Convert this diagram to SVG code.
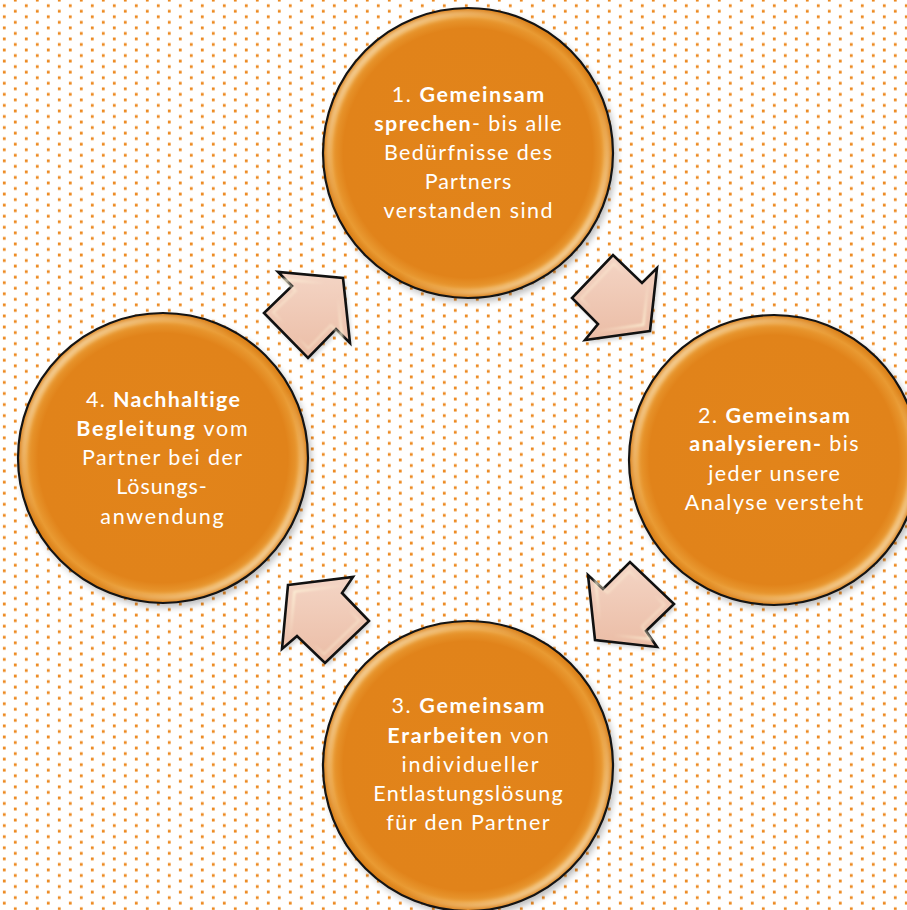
<svg xmlns="http://www.w3.org/2000/svg" width="907" height="910" viewBox="0 0 907 910">
  <style>
    .orb{fill:url(#orb)}
    .edge{fill:none;stroke:#141414;stroke-width:2.2}
    .rim{fill:none;stroke:url(#rim);stroke-width:6;filter:url(#blur2)}
    .shadow{fill:#000;opacity:.28;filter:url(#blur3)}
    .lbl{font-family:"Lato","Carlito","Liberation Sans",sans-serif;font-size:21.5px;fill:#fff;text-anchor:middle;font-variant-ligatures:none}
    .b{font-weight:bold}
    .arrow{fill:url(#arr);stroke:#111;stroke-width:2.6;stroke-linejoin:miter}
    .arrowhl{fill:none;stroke:url(#rim);stroke-width:3;filter:url(#blur1)}
    .arrowsh{fill:#000;opacity:.2;filter:url(#blur2)}
  </style>
  <defs>
    <pattern id="dots" width="22" height="11.08" patternUnits="userSpaceOnUse" patternTransform="translate(0,2.9)">
      <rect x="2.9" y="1.4" width="2.8" height="2.8" fill="#EC8A22"/>
      <rect x="13.9" y="6.95" width="2.8" height="2.8" fill="#EC8A22"/>
    </pattern>
    <radialGradient id="orb" cx="50%" cy="50%" r="50%">
      <stop offset="0" stop-color="#E2841A"/>
      <stop offset="0.86" stop-color="#E1831A"/>
      <stop offset="0.94" stop-color="#E99A32"/>
      <stop offset="1" stop-color="#D87A12"/>
    </radialGradient>
    <linearGradient id="rim" x1="0" y1="0" x2="1" y2="1">
      <stop offset="0" stop-color="#FFF6DA" stop-opacity="1"/>
      <stop offset="0.4" stop-color="#FFF6DA" stop-opacity="0"/>
      <stop offset="0.6" stop-color="#FFF6DA" stop-opacity="0"/>
      <stop offset="1" stop-color="#FFF6DA" stop-opacity="1"/>
    </linearGradient>
    <linearGradient id="arr" x1="0" y1="0" x2="0" y2="1">
      <stop offset="0" stop-color="#F4D5C5"/>
      <stop offset="1" stop-color="#EBBDA6"/>
    </linearGradient>
    <filter id="blur1" x="-20%" y="-20%" width="140%" height="140%"><feGaussianBlur stdDeviation="1.1"/></filter>
    <filter id="blur2" x="-20%" y="-20%" width="140%" height="140%"><feGaussianBlur stdDeviation="2"/></filter>
    <filter id="blur3" x="-20%" y="-20%" width="140%" height="140%"><feGaussianBlur stdDeviation="3.5"/></filter>
  </defs>

  <rect width="907" height="910" fill="#fff"/>
  <rect width="907" height="910" fill="url(#dots)"/>

  <g id="connectors">
    <g id="arrow-4-1">
      <polygon class="arrowsh" points="343,278 350,343 336,329 308,358 264,313 292,286 278,272" transform="translate(2,3)"/>
      <polygon class="arrow" points="343,278 350,343 336,329 308,358 264,313 292,286 278,272"/>
      <polygon class="arrowhl" points="343,278 350,343 336,329 308,358 264,313 292,286 278,272" transform="translate(310,310) scale(0.8) translate(-310,-310)"/>
    </g>
    <g id="arrow-1-2">
      <polygon class="arrowsh" points="650,331 585,340 598,324 572,298 613,255 642,283 657,268" transform="translate(2,3)"/>
      <polygon class="arrow" points="650,331 585,340 598,324 572,298 613,255 642,283 657,268"/>
      <polygon class="arrowhl" points="650,331 585,340 598,324 572,298 613,255 642,283 657,268" transform="translate(617,300) scale(0.8) translate(-617,-300)"/>
    </g>
    <g id="arrow-2-3">
      <polygon class="arrowsh" points="595,640 588,575 603,589 630,562 674,604 646,631 657,647" transform="translate(2,3)"/>
      <polygon class="arrow" points="595,640 588,575 603,589 630,562 674,604 646,631 657,647"/>
      <polygon class="arrowhl" points="595,640 588,575 603,589 630,562 674,604 646,631 657,647" transform="translate(626,608) scale(0.8) translate(-626,-608)"/>
    </g>
    <g id="arrow-3-4">
      <polygon class="arrowsh" points="288,585 353,577 342,593 369,621 325,663 297,636 282,649" transform="translate(2,3)"/>
      <polygon class="arrow" points="288,585 353,577 342,593 369,621 325,663 297,636 282,649"/>
      <polygon class="arrowhl" points="288,585 353,577 342,593 369,621 325,663 297,636 282,649" transform="translate(320,618) scale(0.8) translate(-320,-618)"/>
    </g>
  </g>

  <g id="node1">
    <circle class="shadow" cx="471" cy="157" r="145"/>
    <circle class="orb" cx="468" cy="153" r="145"/>
    <circle class="rim" cx="468" cy="153" r="139.5"/>
    <circle class="edge" cx="468" cy="153" r="145"/>
    <text class="lbl" x="468" y="101.5" textLength="152.6" lengthAdjust="spacing">1. <tspan class="b">Gemeinsam</tspan></text>
    <text class="lbl" x="468" y="130.7" textLength="187.4" lengthAdjust="spacing"><tspan class="b">sprechen</tspan>- bis alle</text>
    <text class="lbl" x="468" y="159.9" textLength="168" lengthAdjust="spacing">Bedürfnisse des</text>
    <text class="lbl" x="468" y="189.1" textLength="86.7" lengthAdjust="spacing">Partners</text>
    <text class="lbl" x="468" y="218.3" textLength="169" lengthAdjust="spacing">verstanden sind</text>
  </g>

  <g id="node2">
    <circle class="shadow" cx="777" cy="464" r="145"/>
    <circle class="orb" cx="774" cy="460" r="145"/>
    <circle class="rim" cx="774" cy="460" r="139.5"/>
    <circle class="edge" cx="774" cy="460" r="145"/>
    <text class="lbl" x="774" y="422.5" textLength="152" lengthAdjust="spacing">2. <tspan class="b">Gemeinsam</tspan></text>
    <text class="lbl" x="774" y="451.2" textLength="169.3" lengthAdjust="spacing"><tspan class="b">analysieren-</tspan> bis</text>
    <text class="lbl" x="774" y="481" textLength="131.7" lengthAdjust="spacing">jeder unsere</text>
    <text class="lbl" x="774" y="510.1" textLength="178.4" lengthAdjust="spacing">Analyse versteht</text>
  </g>

  <g id="node3">
    <circle class="shadow" cx="471" cy="770" r="145"/>
    <circle class="orb" cx="468" cy="766" r="145"/>
    <circle class="rim" cx="468" cy="766" r="139.5"/>
    <circle class="edge" cx="468" cy="766" r="145"/>
    <text class="lbl" x="468" y="713.3" textLength="153" lengthAdjust="spacing">3. <tspan class="b">Gemeinsam</tspan></text>
    <text class="lbl" x="468" y="742.5" textLength="161.3" lengthAdjust="spacing"><tspan class="b">Erarbeiten</tspan> von</text>
    <text class="lbl" x="470" y="771.7" textLength="137" lengthAdjust="spacing">individueller</text>
    <text class="lbl" x="468" y="800.9" textLength="189.3" lengthAdjust="spacing">Entlastungslösung</text>
    <text class="lbl" x="468" y="830.1" textLength="163.3" lengthAdjust="spacing">für den Partner</text>
  </g>

  <g id="node4">
    <circle class="shadow" cx="166" cy="462" r="145"/>
    <circle class="orb" cx="163" cy="458" r="145"/>
    <circle class="rim" cx="163" cy="458" r="139.5"/>
    <circle class="edge" cx="163" cy="458" r="145"/>
    <text class="lbl" x="163" y="406.7" textLength="154" lengthAdjust="spacing">4. <tspan class="b">Nachhaltige</tspan></text>
    <text class="lbl" x="162" y="435.9" textLength="171.3" lengthAdjust="spacing"><tspan class="b">Begleitung</tspan> vom</text>
    <text class="lbl" x="162" y="465.1" textLength="160" lengthAdjust="spacing">Partner bei der</text>
    <text class="lbl" x="161.5" y="494.3" textLength="90.7" lengthAdjust="spacing">Lösungs-</text>
    <text class="lbl" x="162" y="523.5" textLength="123.3" lengthAdjust="spacing">anwendung</text>
  </g>
</svg>
